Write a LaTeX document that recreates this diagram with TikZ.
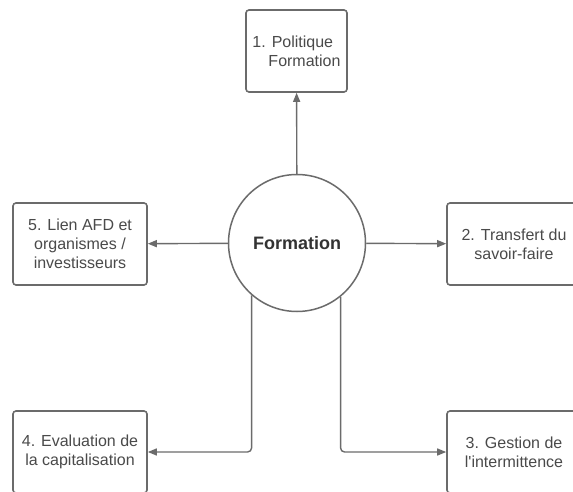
\documentclass[tikz,border=0pt]{standalone}
\usepackage{fontspec}
\setmainfont{Liberation Sans}
\usepackage{tikz}
\usetikzlibrary{positioning,arrows.meta}
\definecolor{boxgray}{HTML}{6B6B6B}
\definecolor{txtgray}{HTML}{4A4A4A}
\definecolor{hubgray}{HTML}{333333}
\tikzset{
    every node/.style={font=\fontsize{16}{19}\selectfont,text=txtgray},
    topic/.style={rectangle,rounded corners=3pt,draw=boxgray,line width=1.6pt,fill=white,
        minimum width=134pt,minimum height=82pt,inner sep=3pt,align=center},
    hub/.style={circle,draw=boxgray,line width=1.5pt,fill=white,minimum size=137pt,inner sep=0pt,
        font=\fontsize{18}{20}\selectfont\bfseries,text=hubgray},
    link/.style={draw=boxgray,line width=1.4pt,-{Triangle[length=9pt,width=7pt]},rounded corners=4pt}
}
\begin{document}
\begin{tikzpicture}[x=1pt,y=-1pt]
    \useasboundingbox (0,0) rectangle (573,492);
    \node[hub] (form) at (297,243) {Formation};
    \node[topic,minimum width=101pt,align=left] (polit) at (296.5,51) {1. Politique\\\hspace*{1em}Formation};
    \node[topic] (transf) at (514,244) {2. Transfert du\\savoir-faire};
    \node[topic] (gest) at (514,452) {3. Gestion de\\l\textquotesingle intermittence};
    \node[topic] (evalu) at (80,452) {4. Evaluation de\\la capitalisation};
    \node[topic] (lien) at (80,244) {5. Lien AFD et\\organismes /\\investisseurs};
    \draw[link] (form) -- (polit);
    \draw[link] (form) -- (transf);
    \draw[link] (form) -- (lien);
    \draw[link] (form.-131) |- (evalu);
    \draw[link] (form.-51) |- (gest);
\end{tikzpicture}
\end{document}
